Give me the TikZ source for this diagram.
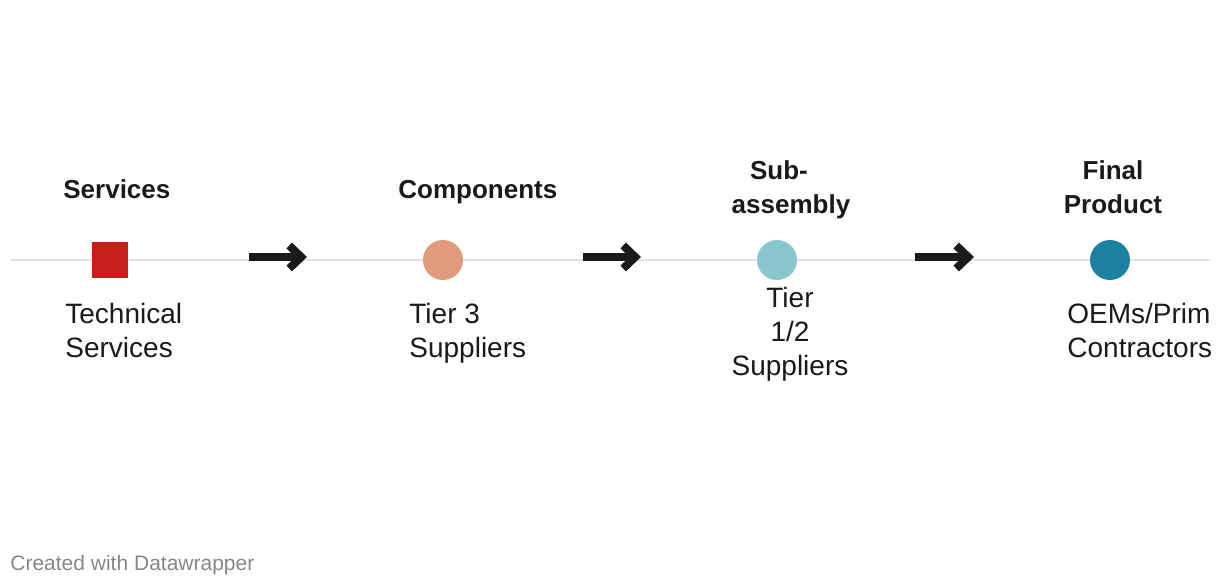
\documentclass[tikz,border=0pt]{standalone}
\usepackage{fontspec}
\setmainfont{Liberation Sans}
\usetikzlibrary{arrows.meta}

\definecolor{dwred}{HTML}{C71E1D}
\definecolor{dwsalmon}{HTML}{DF9B7B}
\definecolor{dwlight}{HTML}{8AC6D0}
\definecolor{dwteal}{HTML}{1D81A2}
\definecolor{dwink}{HTML}{1A1A1A}

\begin{document}
\begin{tikzpicture}[x=0.5pt, y=-0.5pt,
    % ---- styles ----
    H/.style={font=\fontsize{13}{17}\selectfont\bfseries, text=dwink,
              inner sep=0pt, align=center},
    L/.style={font=\fontsize{14}{17}\selectfont, text=dwink,
              inner sep=0pt},
    M/.style={circle, fill=#1, minimum size=20pt, inner sep=0pt},
    A/.style={-{Straight Barb[length=6pt, width=11.5pt]}, line width=4pt,
              color=dwink},
]

% ===== Canvas =====
\fill[white] (0,0) rectangle (1220,586);

% ===== Timeline =====
\coordinate (tl0) at (10,260);
\coordinate (tl1) at (1210,260);
\draw[black!11, line width=1pt] (tl0) -- (tl1);

% ===== Markers =====
\node[rectangle, fill=dwred, minimum size=18pt, inner sep=0pt] (svc) at (110,260) {};
\node[M=dwsalmon] (cmp) at (443,260) {};
\node[M=dwlight]  (sub) at (777,260) {};
\node[M=dwteal]   (fin) at (1110,260) {};

% ===== Stage titles (base = last line) =====
\node[H, anchor=base west] (tsvc) at (63,198)  {Services};
\node[H, anchor=base west] (tcmp) at (398,198) {Components};
\node[H, anchor=base] (tsub) at (791,213) {Sub-\hspace*{12pt}\\assembly};
\node[H, anchor=base] (tfin) at (1113,213) {Final\\Product};

% ===== Stage labels =====
\node[L, anchor=base west, align=left] (lsvc) at (65,357)  {Technical\\Services};
\node[L, anchor=base west, align=left] (lcmp) at (409,357) {Tier 3\\Suppliers};
\node[L, anchor=base, align=center]  (lsub) at (790,375) {Tier\\1/2\\Suppliers};
\begin{scope}
    \clip (0,0) rectangle (1210,586);
    \node[L, anchor=base west, align=left] (lfin) at (1067,357) {OEMs/Prime\\Contractors};
\end{scope}

% ===== Arrows =====
\coordinate (a1s) at (249,257); \coordinate (a1e) at (307,257);
\coordinate (a2s) at (583,257); \coordinate (a2e) at (641,257);
\coordinate (a3s) at (915,257); \coordinate (a3e) at (974,257);
\foreach \a/\b in {a1s/a1e, a2s/a2e, a3s/a3e}
    \draw[A] (\a) -- (\b);

% ===== Credit =====
\node[L, font=\fontsize{10.5}{12}\selectfont, text=black!47, anchor=base west]
    (credit) at (10,570) {Created with Datawrapper};

\end{tikzpicture}
\end{document}
